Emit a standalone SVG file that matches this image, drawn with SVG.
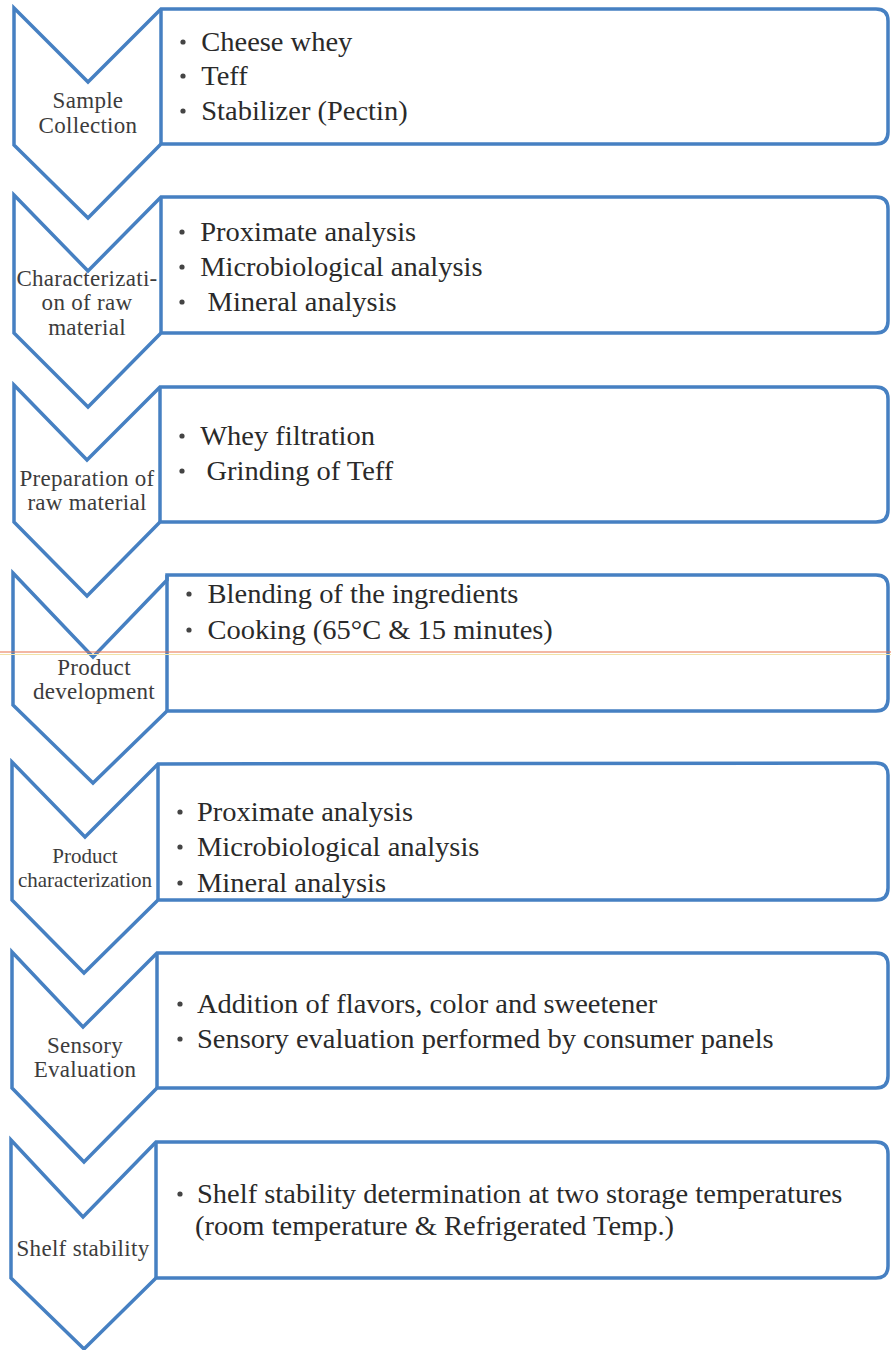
<svg xmlns="http://www.w3.org/2000/svg" width="891" height="1350" viewBox="0 0 891 1350">
<style>
.shape{fill:#fff;stroke:#4680c2;stroke-width:3.5;stroke-linejoin:miter}
.div{fill:none;stroke:#4680c2;stroke-width:3.5}
.lbl{font-family:"Liberation Serif","Times New Roman",serif;font-size:23px;letter-spacing:0.3px;fill:#3c3c3c;text-anchor:middle}
.txt{font-family:"Liberation Serif","Times New Roman",serif;font-size:27px;fill:#2a2a2a}
.dot{fill:#444}
</style>
<rect width="891" height="1350" fill="#fff"/>
<g id="connectors"></g>
<g id="step1">
<path class="shape" d="M14,8 L88,82 L161,9 L876,9 Q888,9 888,21 L888,132 Q888,144 876,144 L161,144 L88,218 L14,145 Z"/>
<path class="div" d="M161,9 V144"/>
<text class="lbl" x="88" y="108">Sample</text>
<text class="lbl" x="88" y="133">Collection</text>
<circle class="dot" cx="183" cy="42" r="2.6"/>
<circle class="dot" cx="183" cy="76" r="2.6"/>
<circle class="dot" cx="183" cy="111" r="2.6"/>
<g transform="matrix(1.055 0 0 1 -10.8 0)">
<text class="txt" x="201" y="51">Cheese whey</text>
<text class="txt" x="201" y="85">Teff</text>
<text class="txt" x="201" y="120">Stabilizer (Pectin)</text>
</g>
</g>
<g id="step2">
<path class="shape" d="M14,195 L88,271 L161,197 L876,197 Q888,197 888,209 L888,321 Q888,333 876,333 L161,333 L88,407 L14,333 Z"/>
<path class="div" d="M161,197 V333"/>
<text class="lbl" x="87" y="286">Characterizati-</text>
<text class="lbl" x="87" y="310">on of raw</text>
<text class="lbl" x="87" y="335">material</text>
<circle class="dot" cx="182" cy="232" r="2.6"/>
<circle class="dot" cx="182" cy="267" r="2.6"/>
<circle class="dot" cx="182" cy="302" r="2.6"/>
<g transform="matrix(1.055 0 0 1 -10.8 0)">
<text class="txt" x="200" y="241">Proximate analysis</text>
<text class="txt" x="200" y="276">Microbiological analysis</text>
<text class="txt" x="207" y="311">Mineral analysis</text>
</g>
</g>
<g id="step3">
<path class="shape" d="M14,385 L87,460 L160,387 L876,387 Q888,387 888,399 L888,510 Q888,522 876,522 L160,522 L87,596 L14,522 Z"/>
<path class="div" d="M160,387 V522"/>
<text class="lbl" x="87" y="486">Preparation of</text>
<text class="lbl" x="87" y="510">raw material</text>
<circle class="dot" cx="182" cy="436" r="2.6"/>
<circle class="dot" cx="182" cy="471" r="2.6"/>
<g transform="matrix(1.055 0 0 1 -10.8 0)">
<text class="txt" x="200" y="445">Whey filtration</text>
<text class="txt" x="206" y="480">Grinding of Teff</text>
</g>
</g>
<g id="step4">
<path class="shape" d="M13,573 L93,657 L167,580 L167,575 L876,575 Q888,575 888,587 L888,699 Q888,711 876,711 L167,711 L93,783 L13,705 Z"/>
<path class="div" d="M167,575 V711"/>
<text class="lbl" x="94" y="675">Product</text>
<text class="lbl" x="94" y="699">development</text>
<circle class="dot" cx="189" cy="594" r="2.6"/>
<circle class="dot" cx="189" cy="630" r="2.6"/>
<g transform="matrix(1.055 0 0 1 -10.8 0)">
<text class="txt" x="207" y="603">Blending of the ingredients</text>
<text class="txt" x="207" y="639">Cooking (65°C &amp; 15 minutes)</text>
</g>
</g>
<g id="step5">
<path class="shape" d="M12,762 L85,837 L158,764 L876,763 Q888,763 888,775 L888,888 Q888,900 876,900 L158,900 L84,973 L12,900 Z"/>
<path class="div" d="M158,764 V900"/>
<text class="lbl" x="85" y="863" style="font-size:21px;letter-spacing:0">Product</text>
<text class="lbl" x="85" y="887" style="font-size:21px;letter-spacing:0">characterization</text>
<circle class="dot" cx="180" cy="812" r="2.6"/>
<circle class="dot" cx="180" cy="847" r="2.6"/>
<circle class="dot" cx="180" cy="883" r="2.6"/>
<g transform="matrix(1.055 0 0 1 -10.8 0)">
<text class="txt" x="197" y="821">Proximate analysis</text>
<text class="txt" x="197" y="856">Microbiological analysis</text>
<text class="txt" x="197" y="892">Mineral analysis</text>
</g>
</g>
<g id="step6">
<path class="shape" d="M12,952 L83,1027 L157,953 L876,953 Q888,953 888,965 L888,1076 Q888,1088 876,1088 L157,1088 L84,1162 L12,1088 Z"/>
<path class="div" d="M157,953 V1088"/>
<text class="lbl" x="85" y="1053">Sensory</text>
<text class="lbl" x="85" y="1077">Evaluation</text>
<circle class="dot" cx="180" cy="1004" r="2.6"/>
<circle class="dot" cx="180" cy="1039" r="2.6"/>
<g transform="matrix(1.055 0 0 1 -10.8 0)">
<text class="txt" x="197" y="1013">Addition of flavors, color and sweetener</text>
<text class="txt" x="197" y="1048">Sensory evaluation performed by consumer panels</text>
</g>
</g>
<g id="step7">
<path class="shape" d="M11,1140 L83,1217 L156,1142 L876,1142 Q888,1142 888,1154 L888,1266 Q888,1278 876,1278 L156,1278 L84,1349 L11,1278 Z"/>
<path class="div" d="M156,1142 V1278"/>
<text class="lbl" x="83" y="1256">Shelf stability</text>
<circle class="dot" cx="180" cy="1194" r="2.6"/>
<g transform="matrix(1.055 0 0 1 -10.8 0)">
<text class="txt" x="197" y="1203">Shelf stability determination at two storage temperatures</text>
<text class="txt" x="195" y="1235">(room temperature &amp; Refrigerated Temp.)</text>
</g>
</g>
<line x1="0" y1="652" x2="891" y2="652" stroke="#e8704a" stroke-width="1.2"/>
<line x1="0" y1="654.5" x2="891" y2="654.5" stroke="#f2e2a6" stroke-width="1"/>
</svg>
